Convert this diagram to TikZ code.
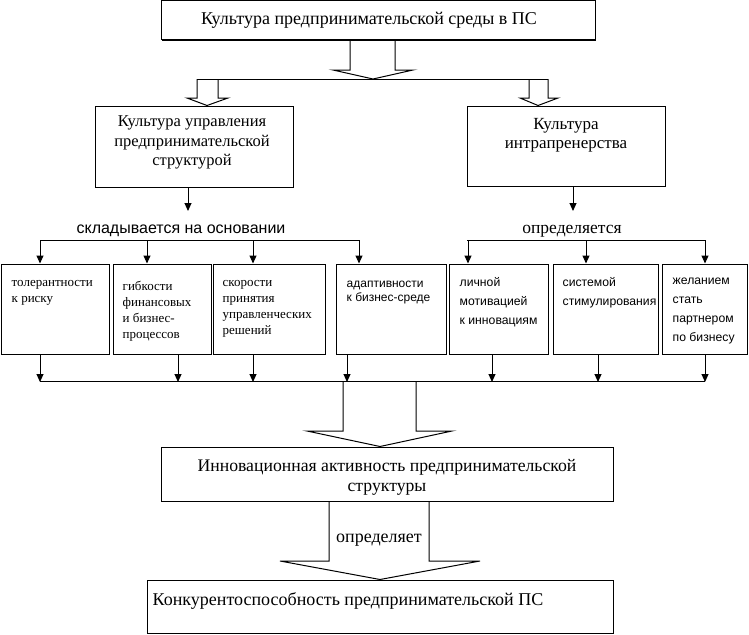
\documentclass[tikz,border=0pt]{standalone}
\usepackage{fontspec}
\setmainfont{Liberation Serif}
\newfontfamily\sansf{Liberation Sans}
\usetikzlibrary{arrows.meta,calc,shadows}
\begin{document}
\begin{tikzpicture}[x=1pt,y=-1pt,
  box/.style={draw, line width=1pt, fill=white, inner sep=0pt,
    drop shadow={shadow xshift=1pt, shadow yshift=-1pt, fill=black, opacity=1}},
  ln/.style={line width=1pt},
  arr/.style={line width=1pt, -{Triangle[width=7pt,length=8pt]}},
  big/.style={font=\fontsize{17}{19.5}\selectfont, inner sep=0pt},
  lbl/.style={font=\fontsize{17.5}{18}\selectfont, inner sep=0pt},
  smalls/.style={font=\fontsize{13}{16}\selectfont, inner sep=0pt, align=left, anchor=north west},
  smallsans/.style={font=\sansf\fontsize{12.2}{19}\selectfont, inner sep=0pt, align=left, anchor=north west},
]
\useasboundingbox (0,0) rectangle (749,634);

% ---- boxes
\node[box, minimum width=434pt, minimum height=39pt] (top) at (378,20.5) {};
\node[box, minimum width=198pt, minimum height=81pt] (L) at (194,146.5) {};
\node[box, minimum width=198pt, minimum height=80pt] (R) at (566,146) {};
\node[box, minimum width=108pt, minimum height=90pt] (b1) at (55,309) {};
\node[box, minimum width=98pt, minimum height=90pt] (b2) at (162,309) {};
\node[box, minimum width=112pt, minimum height=90pt] (b3) at (269,309) {};
\node[box, minimum width=110pt, minimum height=90pt] (b4) at (391,309) {};
\node[box, minimum width=99pt, minimum height=90pt] (b5) at (498.5,309) {};
\node[box, minimum width=105pt, minimum height=90pt] (b6) at (605.5,309) {};
\node[box, minimum width=85pt, minimum height=90pt] (b7) at (704.5,309) {};
\node[box, minimum width=452pt, minimum height=54pt] (inn) at (387,474) {};
\node[box, minimum width=466pt, minimum height=53pt] (kon) at (380,606.5) {};

% ---- texts
\node[big, font=\fontsize{18}{19.5}\selectfont] (ttop) at (369,20) {Культура предпринимательской среды в ПС};
\node[big, font=\fontsize{16.5}{19.5}\selectfont, align=center] (tL) at (192,142.5) {Культура управления\\предпринимательской\\структурой};
\node[big, align=center] (tR) at (566,135) {Культура\\интрапренерства};
\node[smalls] (t1) at ($(b1.north west)+(11,17)$) {толерантности\\к риску};
\node[smalls] (t2) at ($(b2.north west)+(10,17)$) {гибкости\\финансовых\\и бизнес-\\процессов};
\node[smalls] (t3) at ($(b3.north west)+(10,17)$) {скорости\\принятия\\управленческих\\решений};
\node[smallsans, font=\sansf\fontsize{12}{14}\selectfont] (t4) at ($(b4.north west)+(11,17)$) {адаптивности\\к бизнес-среде};
\node[smallsans] (t5) at ($(b5.north west)+(11,14)$) {личной\\мотивацией\\к инновациям};
\node[smallsans] (t6) at ($(b6.north west)+(10,14)$) {системой\\стимулирования};
\node[smallsans] (t7) at ($(b7.north west)+(11,14)$) {желанием\\стать\\партнером\\по бизнесу};
\node[big, font=\fontsize{17.7}{20}\selectfont, align=center] (tinn) at (387,477) {Инновационная активность предпринимательской\\структуры};
\node[big, font=\fontsize{18}{19.5}\selectfont, anchor=west] (tkon) at ($(kon.north west)+(6,21)$) {Конкурентоспособность предпринимательской ПС};
\node[lbl, font=\sansf\fontsize{16}{18}\selectfont] (lsk) at (181,231) {складывается на основании};
\node[lbl] (lop) at (572,231) {определяется};
\node[lbl, font=\fontsize{18}{18}\selectfont] (lopt) at (379,540) {определяет};

% ---- top block arrow and split
\coordinate (hl) at (197,79);
\coordinate (hr) at (548,79);
\draw[ln] ($(top.south)+(-28,0)$) -- (350,70) -- (333,70) -- (373,79) -- (413,70) -- (395,70) -- ($(top.south)+(17,0)$);
\draw[ln] (hl) -- (hr);
\draw[ln] (hl) -- (197,98) -- (187,98) -- (L.north -| 207,0) -- (228,98) -- (218,98) -- (218,79);
\draw[ln] (529,79) -- (529,98) -- (520,98) -- (R.north -| 538,0) -- (558,98) -- (548,98) -- (hr);

% ---- L and R down arrows
\draw[arr] (L.south -| 188,0) -- (188,211);
\draw[arr] (R.south -| 573,0) -- (573,211);
\draw[ln] (40,240) -- (359,240);
\draw[ln] (467,240) -- (705,240);
\foreach \b/\x in {b1/40,b2/147,b3/253,b4/359}{
  \draw[arr] (\x,240) -- (\b.north -| \x,0);
}
\foreach \b/\x in {b5/468,b6/586,b7/705}{
  \draw[arr] (\x,240) -- (\b.north -| \x,0);
}

% ---- collect arrows
\foreach \b/\x in {b1/40,b2/178,b3/253,b4/347,b5/492,b6/598,b7/705}{
  \draw[arr] (\b.south -| \x,0) -- (\x,382);
}
\draw[ln] (40,381) -- (705,381);

% ---- block arrow to innovation
\draw[ln] (343,381) -- (343,431) -- (307,431) -- (inn.north -| 380,0) -- (452,431) -- (416,431) -- (416,381);
% ---- block arrow to competitiveness
\draw[ln] (inn.south -| 329,0) -- (329,561) -- (280,561) -- (kon.north -| 380,0) -- (480,561) -- (429,561) -- (inn.south -| 429,0);
\end{tikzpicture}
\end{document}
